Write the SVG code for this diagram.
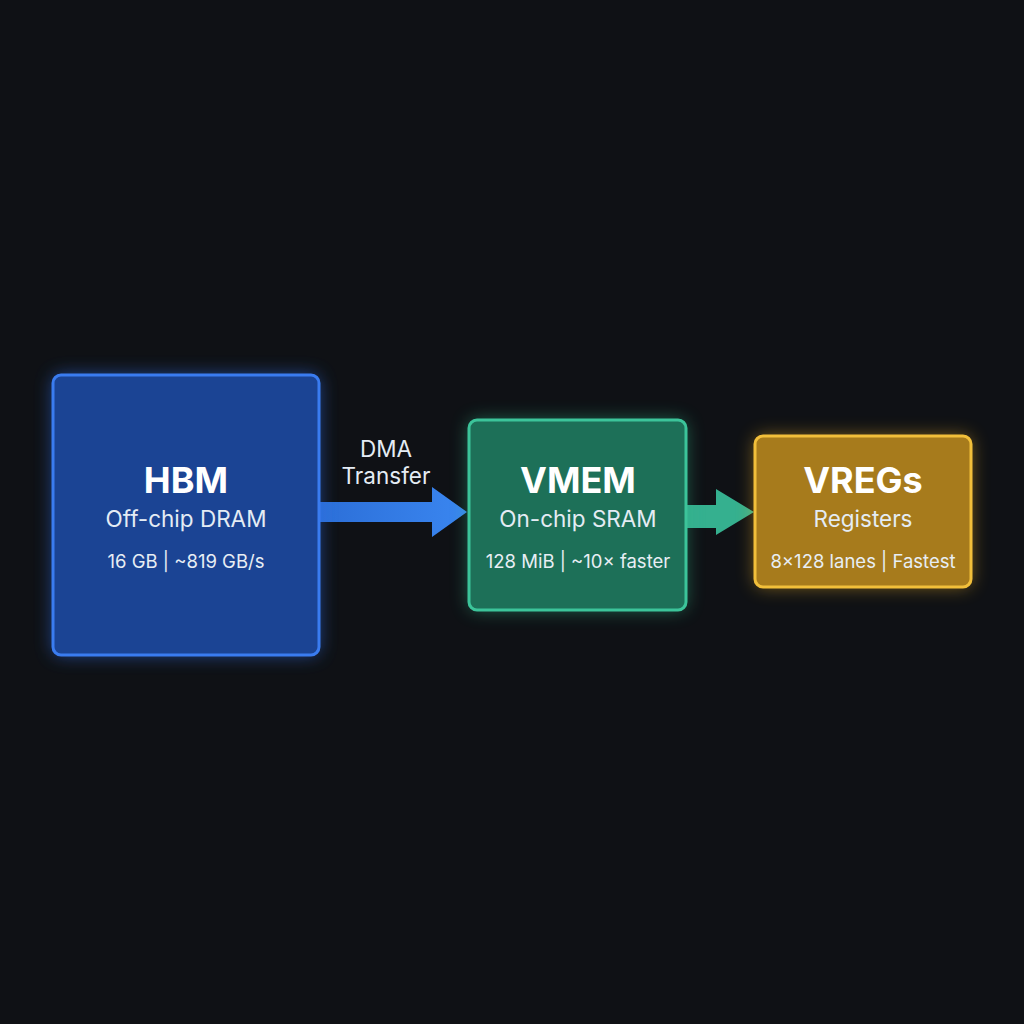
<svg xmlns="http://www.w3.org/2000/svg" width="1024" height="1024" viewBox="0 0 1024 1024">
<defs>
<style>
.t{font-family:Inter,"Liberation Sans",sans-serif;fill:#fff;text-anchor:middle}
.h{font-size:36px;font-weight:700}
.s{font-size:22.5px;fill:#e4ecf4}
.m{font-size:18.5px;fill:#e8eef4}
</style>
<filter id="g" x="-30%" y="-30%" width="160%" height="160%"><feGaussianBlur stdDeviation="9"/></filter>
<linearGradient id="a1" x1="0" x2="1"><stop offset="0" stop-color="#2c6fd8"/><stop offset="1" stop-color="#3a86f0"/></linearGradient>
</defs>
<rect width="1024" height="1024" fill="#0f1115"/>
<g id="connectors">
<path d="M320 502H432V487L467 512L432 537V522H320Z" fill="url(#a1)"/>
<path d="M686 505H716V489L754 512L716 535V528H686Z" fill="#35b08f"/>
<text class="t s" x="386" y="457">DMA</text>
<text class="t s" x="386" y="484">Transfer</text>
</g>
<g id="hbm">
<rect x="53" y="375" width="266" height="280" rx="8" fill="#2f6ee8" opacity="0.6" filter="url(#g)"/>
<rect x="53" y="375" width="266" height="280" rx="8" fill="#1b4494" stroke="#3a7cf0" stroke-width="3"/>
<text class="t h" x="186" y="493">HBM</text>
<text class="t s" x="186" y="527">Off-chip DRAM</text>
<text class="t m" x="186" y="568">16 GB | ~819 GB/s</text>
</g>
<g id="vmem">
<rect x="469" y="420" width="217" height="190" rx="8" fill="#2fb888" opacity="0.5" filter="url(#g)"/>
<rect x="469" y="420" width="217" height="190" rx="8" fill="#1d7058" stroke="#3cc49a" stroke-width="3"/>
<text class="t h" x="578" y="493">VMEM</text>
<text class="t s" x="578" y="527">On-chip SRAM</text>
<text class="t m" x="578" y="568">128 MiB | ~10× faster</text>
</g>
<g id="vregs">
<rect x="755" y="436" width="216" height="151" rx="8" fill="#f0b020" opacity="0.5" filter="url(#g)"/>
<rect x="755" y="436" width="216" height="151" rx="8" fill="#a77b1c" stroke="#f2bf3a" stroke-width="3"/>
<text class="t h" x="863" y="493">VREGs</text>
<text class="t s" x="863" y="527">Registers</text>
<text class="t m" x="863" y="568">8×128 lanes | Fastest</text>
</g>
</svg>
